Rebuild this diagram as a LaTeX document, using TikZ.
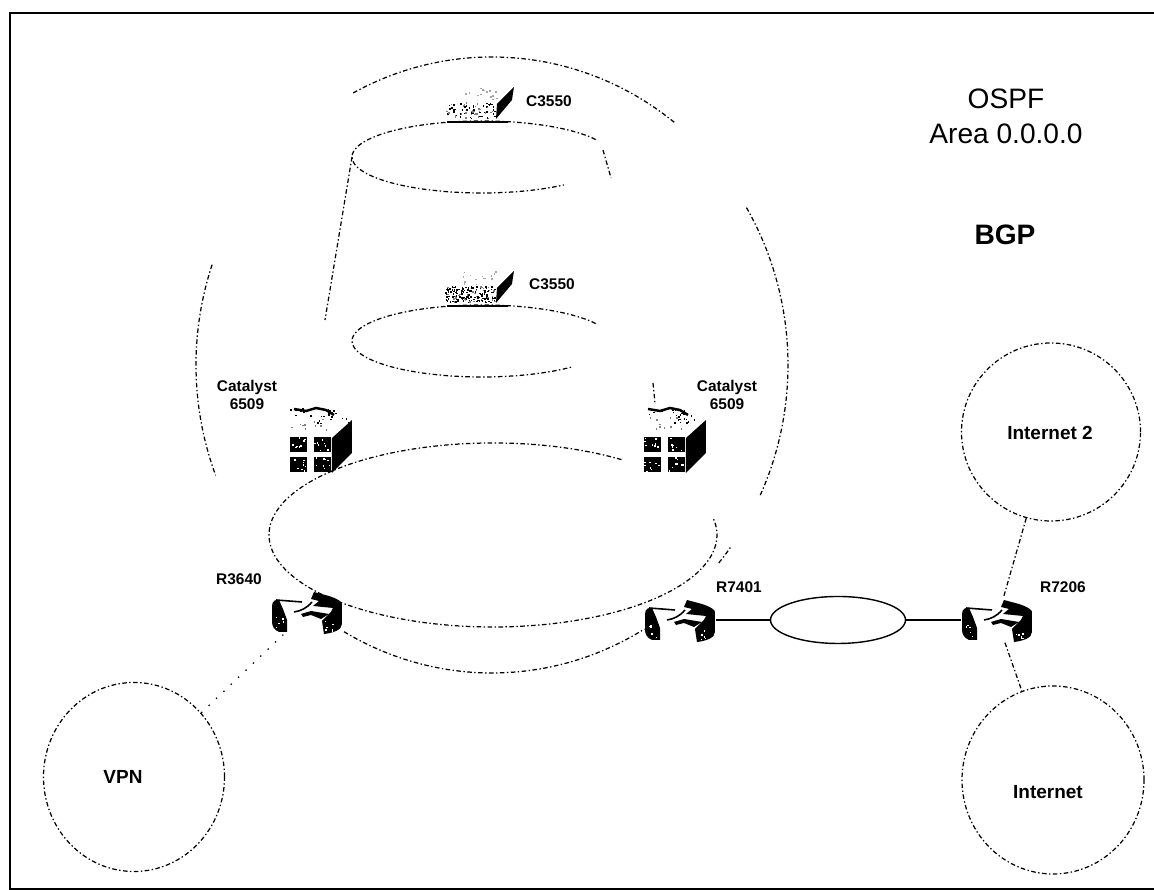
\documentclass[tikz,border=0pt]{standalone}
\usepackage{fontspec}
\setmainfont{Liberation Sans}
\usetikzlibrary{shapes.geometric}
\newcommand\speckle[6]{\foreach \i in {1,...,#6}{\fill[#1] ({#2+#4*rnd},{#3+#5*rnd}) rectangle ++(1.5,1.5);}}
\tikzset{
  ringline/.style={line width=.35pt,dash pattern=on 1.3pt off .7pt on .4pt off .7pt},
  ring/.style={ellipse,draw,ringline,inner sep=0pt},
  routerbox/.style={inner sep=0pt,minimum width=.7cm,minimum height=.44cm},
  catbox/.style={inner sep=0pt,minimum width=.64cm,minimum height=.68cm},
  swbox/.style={inner sep=0pt,minimum width=.72cm,minimum height=.37cm},
  devlabel/.style={font=\bfseries\fontsize{4.4}{5.2}\selectfont,align=center,inner sep=0pt},
  bigtext/.style={font=\fontsize{8}{10}\selectfont,align=center,inner sep=0pt},
  cloudtext/.style={font=\bfseries\fontsize{5.4}{6.5}\selectfont,inner sep=0pt},
  routericon/.pic={
    \begin{scope}[x=.01cm,y=-.01cm]
      \fill (-35,-6) .. controls (-35,-11) and (-31,-13) .. (-28,-12) -- (-24,-3) -- (-20,8) -- (-20,20) -- (-28,20) .. controls (-33,18) and (-35,14) .. (-35,10) -- cycle;
      \fill (7,-20) -- (22,-16) .. controls (31,-13) and (35,-10) .. (35,-8) -- (35,12) .. controls (35,18) and (26,21) .. (17,22) -- (15,9) -- (24,0) -- (26,-4) -- (6,-6) -- (12,-11) -- (4,-13) -- cycle;
      \fill (-6,2) -- (4,-1) -- (22,2) -- (14,7) -- (4,3) -- (-4,5) -- cycle;
      \draw[line width=.45pt] (-31,-12) -- (-5,-10);
      \draw[line width=.45pt] (-13,0) .. controls (-6,-1) and (0,-4) .. (5,-10);
      \speckle{white}{-33}{4}{9}{13}{5}
      \speckle{white}{17}{9}{9}{10}{6}
    \end{scope}
  },
  caticon/.pic={
    \begin{scope}[x=.01cm,y=-.01cm]
      \fill (12,-1) -- (32,-19) -- (32,14) -- (12,34) -- cycle;
      \foreach \qx/\qy in {-30/-2,-6/-2,-30/18,-6/18}{
        \fill (\qx,\qy) rectangle ++(17,15);
        \speckle{white}{\qx}{\qy}{15}{14}{8}
      }
      \draw[line width=.7pt] (-26,-30) -- (-14,-28) -- (-4,-31) -- (6,-29) -- (14,-24);
      \speckle{black}{-30}{-32}{48}{9}{18}
      \speckle{black}{-6}{-24}{34}{8}{10}
      \speckle{gray}{-30}{-22}{40}{14}{10}
    \end{scope}
  },
  swicon/.pic={
    \begin{scope}[x=.01cm,y=-.01cm]
      \fill (17,17) -- (18,2) -- (35,-15) -- (33,-2) -- cycle;
      \draw[line width=.5pt] (-32,20) -- (29,20);
      \speckle{black}{-34}{0}{50}{16}{#1}
      \speckle{gray}{-34}{0}{50}{16}{30}
      \speckle{gray!70}{-18}{-16}{36}{14}{14}
    \end{scope}
  },
}
\begin{document}
\begin{tikzpicture}
  \useasboundingbox (0,0) rectangle (11.54,8.9);
  \draw[line width=.4pt] (11.54,.01) -- (.1,.01) -- (.1,8.77) -- (11.54,8.77);
  % large area
  \foreach \ta/\tb in {52/118,-25/31,-40/-36,-120/-59,161/201}
    \draw[ringline] ({4.92+2.96*cos(\ta)},{5.25+3.08*sin(\ta)}) arc[start angle=\ta,end angle=\tb,x radius=2.96,y radius=3.08];
  \draw[ringline] ({4.82+1.3*cos(29)},{7.33+.36*sin(29)}) arc[start angle=29,end angle=309,x radius=1.3,y radius=.36];
  \draw[ringline] ({4.82+1.3*cos(29)},{5.49+.36*sin(29)}) arc[start angle=29,end angle=314,x radius=1.3,y radius=.36];
  \draw[ringline] ({4.93+2.24*cos(55)},{3.55+.92*sin(55)}) arc[start angle=55,end angle=371,x radius=2.24,y radius=.92];
  \node[ellipse,draw,line width=.4pt,inner sep=0pt,minimum width=1.35cm,minimum height=.47cm] (lan) at (8.38,2.7) {};
  % clouds
  \node[ring,minimum width=1.81cm,minimum height=1.89cm] (vpn) at (1.34,1.13) {};
  \node[ring,minimum width=1.79cm,minimum height=1.78cm] (inettwo) at (10.51,4.58) {};
  \node[ring,minimum width=1.82cm,minimum height=1.88cm] (inet) at (10.53,1.1) {};
  \node[cloudtext] (vpntext) at (1.23,1.13) {VPN};
  \node[cloudtext] (inettwotext) at (10.5,4.57) {Internet 2};
  \node[cloudtext] (inettext) at (10.48,.98) {Internet};
  % devices
  \node[swbox] (swa) at (4.79,7.88) {};
  \node[swbox] (swb) at (4.79,6.04) {};
  \node[catbox] (cata) at (3.2,4.51) {};
  \node[catbox] (catb) at (6.74,4.51) {};
  \node[routerbox] (rthree) at (3.07,2.78) {};
  \node[routerbox] (rseven) at (6.8,2.7) {};
  \node[routerbox] (rtwo) at (9.97,2.7) {};
  \pic at (swa) {swicon=45};
  \pic at (swb) {swicon=140};
  \pic at (cata) {caticon};
  \pic at (catb) {caticon};
  \pic at (rthree) {routericon};
  \pic at (rseven) {routericon};
  \pic at (rtwo) {routericon};
  % links
  \draw[line width=.4pt] (rseven.east) -- (lan.west);
  \draw[line width=.4pt] (lan.east) -- (rtwo.west);
  \draw[ringline] (inettwo) -- (rtwo);
  \draw[ringline] (rtwo) -- (inet);
  \draw[line width=.35pt,dash pattern=on .4pt off 2.5pt] (vpn) -- (rthree);
  \coordinate (conea) at (3.52,7.33);
  \coordinate (coneb) at (3.25,5.7);
  \coordinate (stuba) at (6.03,7.4);
  \coordinate (stubb) at (6.11,7.12);
  \coordinate (stubc) at (6.53,5.07);
  \coordinate (stubd) at (6.55,4.87);
  \draw[ringline] (conea) -- (coneb) (stuba) -- (stubb) (stubc) -- (stubd);
  % labels
  \node[devlabel] (swatext) at (5.49,7.89) {C3550};
  \node[devlabel] (swbtext) at (5.52,6.06) {C3550};
  \node[devlabel] (catatext) at (2.47,4.95) {Catalyst\\6509};
  \node[devlabel] (catbtext) at (7.27,4.95) {Catalyst\\6509};
  \node[devlabel] (rthreetext) at (2.39,3.11) {R3640};
  \node[devlabel] (rseventext) at (7.39,3.03) {R7401};
  \node[devlabel] (rtwotext) at (10.63,3.03) {R7206};
  \node[bigtext] (ospf) at (10.06,7.74) {OSPF\\Area 0.0.0.0};
  \node[bigtext,font=\bfseries\fontsize{8}{10}\selectfont] (bgp) at (10.05,6.55) {BGP};
\end{tikzpicture}
\end{document}
